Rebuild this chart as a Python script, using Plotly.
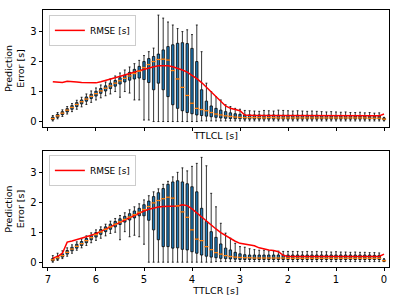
import plotly.graph_objects as go

# ---------------- data ----------------
positions = [6.9, 6.8, 6.7, 6.6, 6.5, 6.4, 6.3, 6.2, 6.1, 6.0,
             5.9, 5.8, 5.7, 5.6, 5.5, 5.4, 5.3, 5.2, 5.1, 5.0,
             4.9, 4.8, 4.7, 4.6, 4.5, 4.4, 4.3, 4.2, 4.1, 4.0,
             3.9, 3.8, 3.7, 3.6, 3.5, 3.4, 3.3, 3.2, 3.1, 3.0,
             2.9, 2.8, 2.7, 2.6, 2.5, 2.4, 2.3, 2.2, 2.1, 2.0,
             1.9, 1.8, 1.7, 1.6, 1.5, 1.4, 1.3, 1.2, 1.1, 1.0,
             0.9, 0.8, 0.7, 0.6, 0.5, 0.4, 0.3, 0.2, 0.1, 0.0]

# --- TTLCL (top) ---
l_median = [0.10, 0.19, 0.28, 0.38, 0.47, 0.57, 0.66, 0.75, 0.84, 0.93,
            1.02, 1.11, 1.19, 1.28, 1.36, 1.44, 1.52, 1.60, 1.68, 1.80,
            1.90, 2.00, 2.07, 2.08, 2.05, 1.70, 1.42, 1.14, 0.87, 0.61,
            0.44, 0.40, 0.36, 0.30, 0.25, 0.22, 0.19, 0.17, 0.15, 0.14,
            0.13, 0.13, 0.13, 0.13, 0.12, 0.13, 0.13, 0.12, 0.12, 0.12,
            0.12, 0.12, 0.12, 0.12, 0.12, 0.12, 0.12, 0.12, 0.12, 0.12,
            0.12, 0.12, 0.12, 0.12, 0.12, 0.12, 0.11, 0.11, 0.11, 0.08]
l_q1 = [0.06, 0.14, 0.23, 0.32, 0.41, 0.50, 0.59, 0.68, 0.77, 0.85,
        0.94, 1.02, 1.10, 1.18, 1.25, 1.32, 1.38, 1.42, 1.45, 1.40,
        1.30, 1.06, 1.28, 1.06, 0.83, 0.56, 0.44, 0.36, 0.30, 0.26,
        0.22, 0.20, 0.18, 0.16, 0.14, 0.12, 0.11, 0.10, 0.09, 0.09,
        0.08, 0.08, 0.08, 0.08, 0.08, 0.08, 0.08, 0.08, 0.08, 0.08,
        0.08, 0.08, 0.08, 0.08, 0.08, 0.08, 0.08, 0.08, 0.08, 0.08,
        0.08, 0.08, 0.08, 0.08, 0.08, 0.08, 0.08, 0.08, 0.08, 0.05]
l_q3 = [0.15, 0.24, 0.33, 0.43, 0.53, 0.63, 0.72, 0.82, 0.91, 1.01,
        1.10, 1.19, 1.28, 1.37, 1.46, 1.55, 1.64, 1.74, 1.84, 2.00,
        2.10, 2.17, 2.25, 2.39, 2.50, 2.56, 2.61, 2.63, 2.60, 2.44,
        2.00, 1.06, 0.68, 0.52, 0.44, 0.38, 0.33, 0.29, 0.26, 0.24,
        0.22, 0.22, 0.22, 0.22, 0.21, 0.22, 0.22, 0.21, 0.21, 0.21,
        0.21, 0.21, 0.21, 0.21, 0.21, 0.21, 0.20, 0.20, 0.20, 0.20,
        0.20, 0.20, 0.20, 0.19, 0.19, 0.19, 0.18, 0.18, 0.18, 0.12]
l_low = [0.02, 0.09, 0.17, 0.25, 0.33, 0.41, 0.49, 0.57, 0.64, 0.72,
         0.79, 0.86, 0.92, 1.00, 0.81, 1.00, 0.95, 0.72, 0.72, 0.05,
         0.05, 0.00, 0.00, 0.00, 0.00, 0.00, 0.00, 0.00, 0.00, 0.00,
         0.00, 0.02, 0.02, 0.02, 0.02, 0.02, 0.02, 0.02, 0.02, 0.02,
         0.02, 0.02, 0.02, 0.02, 0.02, 0.02, 0.02, 0.02, 0.02, 0.02,
         0.02, 0.02, 0.02, 0.02, 0.02, 0.02, 0.02, 0.02, 0.02, 0.02,
         0.02, 0.02, 0.02, 0.02, 0.02, 0.02, 0.02, 0.02, 0.02, 0.02]
l_high = [0.20, 0.30, 0.39, 0.50, 0.60, 0.71, 0.81, 0.92, 1.02, 1.12,
          1.22, 1.32, 1.42, 1.52, 1.62, 1.72, 1.82, 1.93, 2.04, 2.20,
          2.33, 2.45, 3.55, 3.45, 3.32, 3.22, 3.10, 3.00, 3.06, 2.90,
          3.22, 2.33, 1.28, 1.00, 0.83, 0.72, 0.56, 0.50, 0.44, 0.41,
          0.37, 0.36, 0.35, 0.34, 0.37, 0.36, 0.35, 0.38, 0.37, 0.36,
          0.35, 0.36, 0.35, 0.34, 0.35, 0.34, 0.33, 0.32, 0.33, 0.32,
          0.31, 0.32, 0.30, 0.30, 0.31, 0.29, 0.30, 0.28, 0.29, 0.14]
l_rmse = [1.33, 1.32, 1.30, 1.34, 1.34, 1.32, 1.30, 1.29, 1.29, 1.29,
          1.33, 1.37, 1.42, 1.46, 1.50, 1.55, 1.60, 1.65, 1.70, 1.75,
          1.79, 1.83, 1.86, 1.87, 1.86, 1.83, 1.78, 1.72, 1.65, 1.55,
          1.43, 1.30, 1.15, 1.00, 0.85, 0.68, 0.52, 0.44, 0.40, 0.36,
          0.22, 0.20, 0.20, 0.20, 0.20, 0.20, 0.20, 0.20, 0.19, 0.19,
          0.19, 0.19, 0.19, 0.19, 0.19, 0.19, 0.19, 0.19, 0.19, 0.19,
          0.19, 0.19, 0.19, 0.19, 0.19, 0.19, 0.19, 0.19, 0.19, 0.25]

# --- TTLCR (bottom) ---
r_median = [0.08, 0.15, 0.22, 0.33, 0.44, 0.53, 0.62, 0.72, 0.82, 0.92,
            1.01, 1.10, 1.18, 1.27, 1.35, 1.43, 1.51, 1.59, 1.67, 1.76,
            1.86, 1.98, 2.06, 2.12, 2.17, 2.14, 1.88, 1.68, 1.50, 1.08,
            0.77, 0.72, 0.52, 0.42, 0.32, 0.27, 0.22, 0.19, 0.17, 0.16,
            0.15, 0.15, 0.14, 0.14, 0.14, 0.14, 0.14, 0.14, 0.14, 0.13,
            0.13, 0.13, 0.13, 0.13, 0.13, 0.13, 0.13, 0.13, 0.13, 0.13,
            0.13, 0.13, 0.13, 0.13, 0.13, 0.13, 0.13, 0.13, 0.13, 0.05]
r_q1 = [0.04, 0.10, 0.17, 0.27, 0.38, 0.47, 0.56, 0.65, 0.75, 0.84,
        0.93, 1.02, 1.10, 1.18, 1.26, 1.34, 1.41, 1.48, 1.55, 1.55,
        1.40, 1.08, 0.75, 0.52, 0.52, 0.47, 0.48, 0.43, 0.41, 0.35,
        0.30, 0.24, 0.20, 0.17, 0.15, 0.13, 0.12, 0.11, 0.10, 0.09,
        0.09, 0.09, 0.09, 0.09, 0.09, 0.09, 0.09, 0.09, 0.09, 0.09,
        0.09, 0.09, 0.09, 0.09, 0.09, 0.09, 0.09, 0.09, 0.09, 0.09,
        0.09, 0.09, 0.09, 0.09, 0.09, 0.09, 0.09, 0.09, 0.09, 0.03]
r_q3 = [0.12, 0.20, 0.28, 0.39, 0.50, 0.60, 0.69, 0.79, 0.89, 0.99,
        1.09, 1.18, 1.27, 1.36, 1.45, 1.53, 1.62, 1.71, 1.80, 1.92,
        2.04, 2.19, 2.32, 2.46, 2.60, 2.68, 2.72, 2.68, 2.62, 2.52,
        2.35, 1.80, 1.36, 1.02, 0.83, 0.61, 0.47, 0.41, 0.33, 0.28,
        0.25, 0.24, 0.24, 0.24, 0.24, 0.24, 0.24, 0.24, 0.24, 0.24,
        0.24, 0.24, 0.24, 0.24, 0.24, 0.24, 0.24, 0.24, 0.24, 0.24,
        0.24, 0.24, 0.24, 0.24, 0.24, 0.24, 0.24, 0.23, 0.23, 0.08]
r_low = [0.00, 0.06, 0.12, 0.20, 0.30, 0.40, 0.48, 0.56, 0.65, 0.73,
         0.80, 0.88, 0.96, 1.00, 0.75, 1.02, 0.85, 0.90, 0.85, 0.60,
         0.00, 0.00, 0.00, 0.00, 0.00, 0.00, 0.00, 0.00, 0.00, 0.00,
         0.00, 0.00, 0.00, 0.00, 0.02, 0.02, 0.02, 0.02, 0.02, 0.02,
         0.02, 0.02, 0.02, 0.02, 0.02, 0.02, 0.02, 0.02, 0.02, 0.02,
         0.02, 0.02, 0.02, 0.02, 0.02, 0.02, 0.02, 0.02, 0.02, 0.02,
         0.02, 0.02, 0.02, 0.02, 0.02, 0.02, 0.02, 0.02, 0.02, 0.02]
r_high = [0.22, 0.30, 0.38, 0.48, 0.58, 0.68, 0.78, 0.88, 0.98, 1.08,
          1.18, 1.27, 1.37, 1.46, 1.56, 1.65, 1.75, 1.85, 1.95, 2.08,
          2.22, 2.35, 2.45, 2.60, 2.70, 2.85, 3.00, 3.15, 3.05, 3.20,
          3.30, 3.50, 3.22, 2.30, 1.85, 1.30, 0.97, 0.80, 0.63, 0.52,
          0.50, 0.45, 0.42, 0.40, 0.40, 0.38, 0.38, 0.37, 0.36, 0.36,
          0.36, 0.36, 0.35, 0.36, 0.35, 0.36, 0.35, 0.35, 0.34, 0.35,
          0.34, 0.34, 0.33, 0.34, 0.33, 0.33, 0.32, 0.32, 0.31, 0.12]
r_rmse = [0.13, 0.19, 0.30, 0.67, 0.71, 0.75, 0.80, 0.85, 0.90, 0.95,
          1.03, 1.10, 1.18, 1.26, 1.33, 1.41, 1.49, 1.57, 1.64, 1.71,
          1.77, 1.81, 1.84, 1.86, 1.86, 1.87, 1.88, 1.92, 1.89, 1.78,
          1.64, 1.50, 1.37, 1.24, 1.11, 0.99, 0.89, 0.79, 0.70, 0.63,
          0.60, 0.58, 0.55, 0.48, 0.44, 0.41, 0.39, 0.35, 0.23, 0.19,
          0.19, 0.19, 0.19, 0.19, 0.19, 0.19, 0.19, 0.19, 0.19, 0.19,
          0.19, 0.19, 0.19, 0.19, 0.19, 0.19, 0.19, 0.19, 0.19, 0.27]

x_ticks = [7, 6, 5, 4, 3, 2, 1, 0]
y_ticks = [0, 1, 2, 3]

BLUE = "#1f77b4"
ORANGE = "#ff7f0e"
FONT = "DejaVu Sans"
TITLE_FONT = dict(size=9.5, family=FONT, color="black")

fig = go.Figure()


def add_panel(med, q1, q3, lo, hi, rmse, xa, ya, legend):
    fig.add_trace(go.Scatter(
        x=positions, y=rmse, mode="lines", name="RMSE [s]",
        line=dict(color="red", width=1.5), xaxis=xa, yaxis=ya,
        legend=legend, showlegend=True))
    fig.add_trace(go.Box(
        x=positions, q1=q1, median=med, q3=q3,
        lowerfence=lo, upperfence=hi, width=0.05,
        whiskerwidth=0.8, fillcolor=BLUE,
        line=dict(color="black", width=0.8),
        boxpoints=False, showlegend=False, xaxis=xa, yaxis=ya))
    fig.add_trace(go.Scatter(
        x=positions, y=med, mode="markers", showlegend=False,
        marker=dict(symbol="line-ew", size=3,
                    line=dict(color=ORANGE, width=1.3)),
        hoverinfo="skip", xaxis=xa, yaxis=ya))


add_panel(l_median, l_q1, l_q3, l_low, l_high, l_rmse, "x", "y", "legend")
add_panel(r_median, r_q1, r_q3, r_low, r_high, r_rmse, "x2", "y2", "legend2")

axis_common = dict(showline=True, mirror=True, linecolor="black",
                   linewidth=0.8, ticks="outside", ticklen=3.5,
                   tickwidth=0.8, tickcolor="black", showgrid=False,
                   zeroline=False, automargin=False,
                   tickfont=dict(size=10, color="black", family=FONT))

legend_common = dict(x=0.017, xanchor="left", yanchor="top",
                     bordercolor="#cccccc", borderwidth=1,
                     bgcolor="rgba(255,255,255,0.8)",
                     font=dict(size=9, family=FONT, color="black"),
                     itemwidth=30, tracegroupgap=0)

fig.update_layout(
    width=399, height=304,
    margin=dict(l=43, r=10, t=10, b=37),
    paper_bgcolor="white", plot_bgcolor="white",
    font=dict(family=FONT, size=9, color="black"),
    boxmode="overlay",
    xaxis=dict(domain=[0, 1], anchor="y", range=[7.104, -0.104],
               tickvals=x_ticks, showticklabels=False,
               title=dict(text="TTLCL [s]", standoff=2, font=TITLE_FONT),
               **axis_common),
    yaxis=dict(domain=[0.545, 1], anchor="x", range=[-0.18, 3.72],
               tickvals=y_ticks,
               title=dict(text="Prediction<br>Error [s]", standoff=3,
                          font=TITLE_FONT),
               **axis_common),
    xaxis2=dict(domain=[0, 1], anchor="y2", range=[7.104, -0.104],
                tickvals=x_ticks,
                title=dict(text="TTLCR [s]", standoff=2, font=TITLE_FONT),
                **axis_common),
    yaxis2=dict(domain=[0, 0.451], anchor="x2", range=[-0.16, 3.71],
                tickvals=y_ticks,
                title=dict(text="Prediction<br>Error [s]", standoff=3,
                           font=TITLE_FONT),
                **axis_common),
    legend=dict(y=0.981, **legend_common),
    legend2=dict(y=0.436, **legend_common),
)

fig.write_html("out.html",
               config={"displayModeBar": False},
               post_script="document.body.style.margin='0';"
                           "document.body.style.overflow='hidden';")
